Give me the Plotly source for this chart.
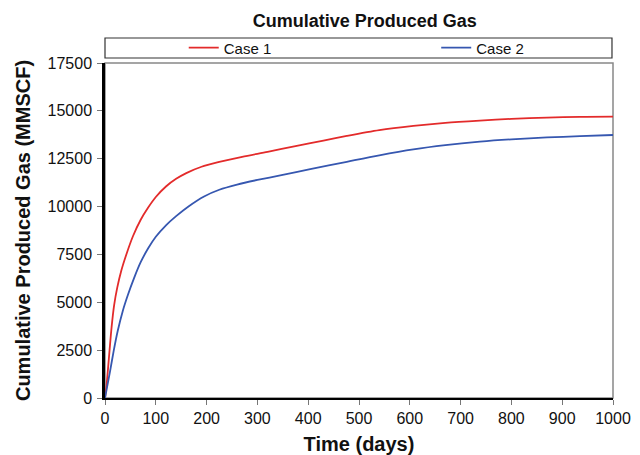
import plotly.graph_objects as go

# Data
time_case1 = [0, 3, 6, 9, 13, 18, 24, 32, 42, 55, 70, 85, 100, 120, 140, 160, 190,
              225, 270, 320, 375, 430, 476, 540, 607, 670, 738, 800, 870, 935, 1000]
gas_case1 = [0, 650, 1550, 2500, 3700, 4850, 5750, 6650, 7500, 8450, 9300, 9950,
             10500, 11050, 11450, 11750, 12080, 12330, 12600, 12860, 13160, 13450,
             13690, 13990, 14210, 14370, 14490, 14580, 14650, 14690, 14700]

time_case2 = [0, 5, 10, 17, 25, 35, 45, 57, 70, 85, 100, 120, 140, 165, 195, 225,
              260, 300, 345, 404, 476, 540, 607, 670, 738, 800, 870, 935, 1000]
gas_case2 = [0, 700, 1400, 2450, 3500, 4550, 5380, 6250, 7080, 7820, 8420, 9020,
             9500, 10020, 10530, 10880, 11150, 11390, 11630, 11950, 12340, 12680,
             12990, 13210, 13390, 13510, 13610, 13680, 13740]

x_ticks = list(range(0, 1001, 100))
y_ticks = list(range(0, 17501, 2500))

FONT = "Liberation Sans, Arial, sans-serif"

fig = go.Figure()
fig.add_trace(go.Scatter(x=time_case1, y=gas_case1, mode="lines", name="Case 1",
                         legend="legend",
                         line=dict(color="#e32b2b", width=1.8, shape="spline", smoothing=0.8)))
fig.add_trace(go.Scatter(x=time_case2, y=gas_case2, mode="lines", name="Case 2",
                         legend="legend2",
                         line=dict(color="#3657b0", width=1.8, shape="spline", smoothing=0.8)))

legend_style = dict(orientation="h", yanchor="middle", xanchor="left", y=1.045,
                    font=dict(size=15, family=FONT, color="#111111"),
                    bgcolor="rgba(0,0,0,0)", borderwidth=0)

fig.update_layout(
    width=640, height=455,
    margin=dict(l=105, r=27, t=63, b=57, autoexpand=False),
    paper_bgcolor="white", plot_bgcolor="white",
    font=dict(family=FONT, color="#111111"),
    title=dict(text="<b>Cumulative Produced Gas</b>", x=0.570, xanchor="center",
               y=0.955, yanchor="middle", font=dict(size=18, family=FONT, color="#111111")),
    showlegend=True,
    legend=dict(x=0.155, **legend_style),
    legend2=dict(x=0.652, **legend_style),
    xaxis=dict(range=[0, 1000], tickvals=x_ticks, ticks="outside", ticklen=5,
               tickcolor="#777777", tickwidth=1.2, showline=True, linecolor="black",
               linewidth=1.5, showgrid=False, zeroline=False,
               tickfont=dict(size=16, family=FONT),
               title=dict(text="<b>Time (days)</b>", font=dict(size=20, family=FONT), standoff=12)),
    yaxis=dict(range=[0, 17500], tickvals=y_ticks, ticks="outside", ticklen=5,
               tickcolor="#777777", tickwidth=1.2, showline=True, linecolor="black",
               linewidth=2.5, showgrid=False, zeroline=False,
               tickformat="d", tickfont=dict(size=16, family=FONT), ticklabelstandoff=2,
               title=dict(text="<b>Cumulative Produced Gas (MMSCF)</b>",
                          font=dict(size=20, family=FONT), standoff=12)),
    shapes=[
        dict(type="rect", xref="paper", yref="paper", x0=0, x1=1, y0=0, y1=1,
             line=dict(color="#888888", width=1.5), layer="below"),
        dict(type="rect", xref="paper", yref="paper", x0=0.0, x1=0.998, y0=1.0149, y1=1.0746,
             line=dict(color="#333333", width=1.2), layer="below"),
    ],
)

fig.write_html("out.html")
